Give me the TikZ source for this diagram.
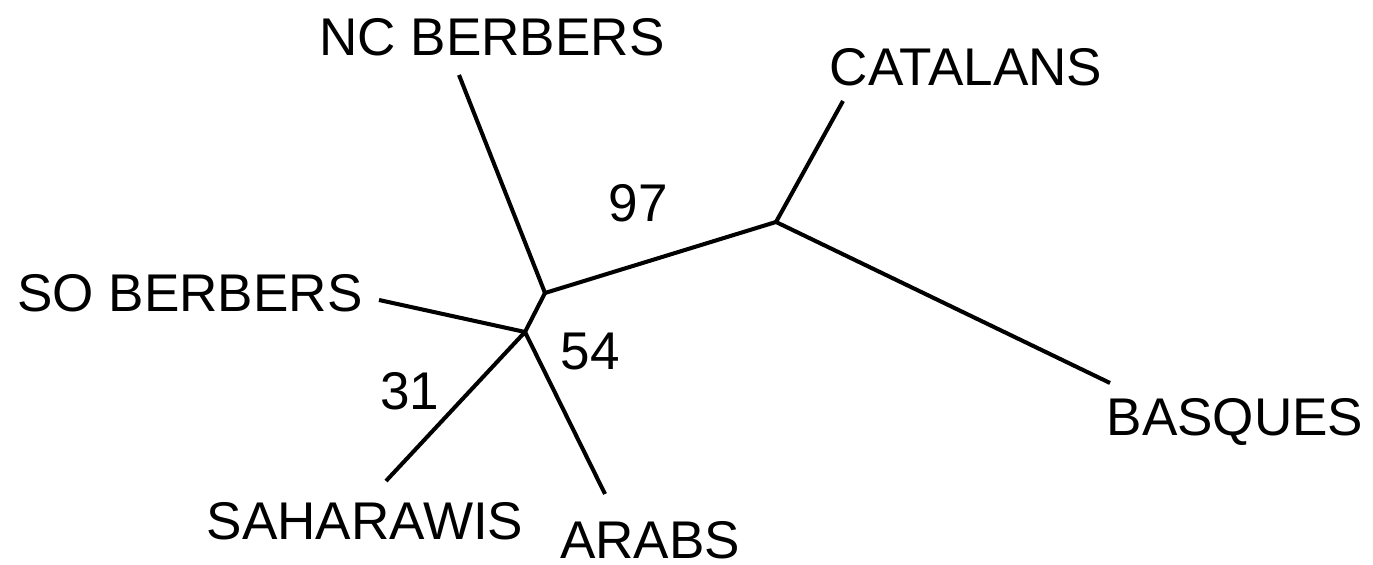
\documentclass[tikz,border=0pt]{standalone}
\usepackage{fontspec}
\setmainfont{Liberation Sans}

\tikzset{
    branch/.style={line width=2.3pt},
    taxon/.style={inner sep=0pt, font=\fontsize{30.2}{35}\selectfont},
    support/.style={inner sep=0pt, font=\fontsize{30.2}{35}\selectfont}
}

\begin{document}
\begin{tikzpicture}

            \useasboundingbox (0,0) rectangle (27.46,11.3);

            % Inner nodes
            \coordinate (nafr) at (10.90,5.44);
            \coordinate (berb) at (10.50,4.66);
            \coordinate (iber) at (15.52,6.86);

            % Leaf ends
            \coordinate (ncend) at (9.18,9.80);
            \coordinate (catend) at (16.86,9.28);
            \coordinate (basend) at (22.20,3.64);
            \coordinate (soend) at (7.58,5.30);
            \coordinate (sahend) at (7.72,1.68);
            \coordinate (araend) at (12.10,1.42);

            % Branches
            \draw[branch] (ncend) -- (nafr) -- (iber);
            \draw[branch] (catend) -- (iber) -- (basend);
            \draw[branch] (nafr) -- (berb);
            \draw[branch] (soend) -- (berb);
            \draw[branch] (sahend) -- (berb) -- (araend);

            % Population labels
            \node[taxon] (nc) at (9.84,10.56) {NC BERBERS};
            \node[taxon] (cat) at (19.32,9.96) {CATALANS};
            \node[taxon] (so) at (3.80,5.44) {SO BERBERS};
            \node[taxon] (bas) at (24.70,2.86) {BASQUES};
            \node[taxon] (sah) at (7.30,0.88) {SAHARAWIS};
            \node[taxon] (ara) at (13.00,0.50) {ARABS};

            % Bootstrap values
            \node[support] (bs97) at (12.76,7.24) {97};
            \node[support] (bs54) at (11.80,4.26) {54};
            \node[support] (bs31) at (8.20,3.48) {31};

        \end{tikzpicture}
\end{document}
